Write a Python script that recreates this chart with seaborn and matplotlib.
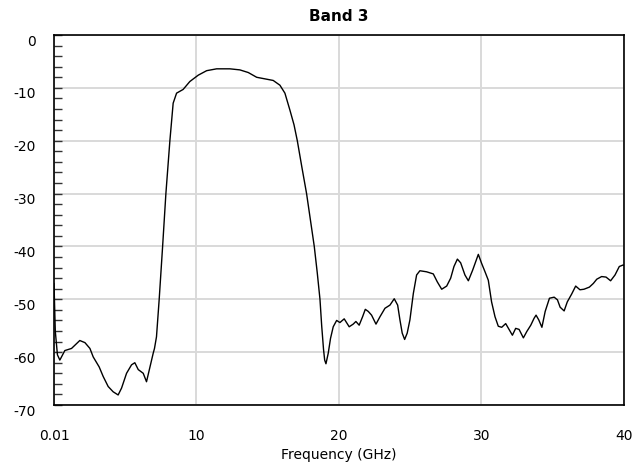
import numpy as np
import pandas as pd
import matplotlib
matplotlib.use("Agg")
import matplotlib.pyplot as plt
import matplotlib.transforms as mtransforms
from matplotlib.ticker import MultipleLocator, FixedLocator
import seaborn as sns

# -------- data --------
freq_ghz = [
    0.01, 0.1, 0.25, 0.42, 0.77, 1.24, 1.82, 2.18, 2.53, 2.76, 3.18, 3.46, 3.81,
    4.16, 4.51, 4.75, 5.10, 5.45, 5.68, 5.92, 6.27, 6.50, 6.74, 6.97, 7.06, 7.20,
    7.39, 7.63, 7.86, 8.14, 8.37, 8.61, 9.07, 9.54, 10.13, 10.72, 11.42,
    12.35, 13.05, 13.64, 14.23, 14.81, 15.39, 15.86, 16.21, 16.56, 16.85, 17.08,
    17.40, 17.73, 18.00, 18.27, 18.48, 18.67, 18.79, 18.92, 19.00, 19.09, 19.25,
    19.41, 19.60, 19.84,
    20.07, 20.37, 20.72, 21.00, 21.19, 21.42, 21.66, 21.85, 22.06, 22.29, 22.60,
    22.88, 23.23, 23.58, 23.88, 24.12, 24.28, 24.44, 24.61, 24.79, 24.98, 25.22,
    25.45, 25.68, 26.15, 26.62, 26.90, 27.21, 27.56, 27.84, 28.07, 28.31, 28.54,
    28.84, 29.08, 29.38, 29.78, 30.01, 30.25, 30.48, 30.71, 30.95, 31.18, 31.42,
    31.70, 31.96, 32.17, 32.40, 32.64, 32.94, 33.18, 33.46, 33.69, 33.83, 34.02,
    34.24, 34.47, 34.77, 35.10, 35.33, 35.52, 35.80, 36.02, 36.33, 36.61, 36.91,
    37.19, 37.57, 37.85, 38.09, 38.43, 38.74, 39.06, 39.37, 39.67, 39.95, 40.0,
]
s21_db = [
    -47.0, -56.0, -60.5, -61.5, -59.7, -59.3, -57.8, -58.2, -59.3, -60.9, -62.8,
    -64.6, -66.5, -67.5, -68.1, -66.8, -64.0, -62.4, -62.0, -63.3, -64.0, -65.6,
    -62.8, -60.2, -59.3, -57.1, -50.0, -40.0, -30.0, -20.0, -12.9, -11.0,
    -10.3, -8.8, -7.6, -6.75, -6.4, -6.4, -6.6, -7.1, -8.0, -8.3, -8.6, -9.5,
    -11.0, -14.2, -17.0, -20.0, -25.0, -30.0, -35.0, -40.0, -45.0, -50.0, -55.0,
    -59.5, -61.5, -62.2, -60.2, -57.4, -55.2, -54.0,
    -54.4, -53.7, -55.2, -54.7, -54.2, -54.9, -53.3,
    -51.9, -52.3, -53.0, -54.7, -53.3, -51.7, -51.1, -49.9, -51.1, -53.9, -56.4,
    -57.6, -56.4, -53.9, -48.9, -45.4, -44.6, -44.8, -45.2, -46.7, -48.1, -47.5,
    -46.0, -43.8, -42.4, -43.1, -45.4, -46.5, -44.5, -41.5, -43.2, -44.8, -46.4,
    -50.5, -53.3, -55.1, -55.3, -54.6, -55.8, -56.8, -55.5, -55.7, -57.3, -56.1,
    -54.9, -53.6, -53.0, -53.9, -55.3, -52.3, -49.8, -49.6, -50.1, -51.5, -52.2,
    -50.5, -49.0, -47.5, -48.2, -48.1, -47.7, -47.0, -46.2, -45.7, -45.8, -46.5,
    -45.4, -43.8, -43.5, -43.6,
]
x_ticks = [0.01, 10, 20, 30, 40]
x_tick_labels = ["0.01", "10", "20", "30", "40"]
y_ticks = [0, -10, -20, -30, -40, -50, -60, -70]

df = pd.DataFrame({"freq": freq_ghz, "db": s21_db})

# -------- plot --------
sns.set_style("white")
plt.rcParams["font.family"] = ["DejaVu Sans"]
plt.rcParams["axes.unicode_minus"] = False
plt.rcParams["text.color"] = "black"
plt.rcParams["axes.labelcolor"] = "black"
plt.rcParams["xtick.color"] = "black"
plt.rcParams["ytick.color"] = "black"

fig = plt.figure(figsize=(6.36, 4.76), dpi=100)
ax = fig.add_axes([54 / 636, 1 - 405 / 476, 570 / 636, 370 / 476])

sns.lineplot(data=df, x="freq", y="db", color="black", linewidth=1.0, ax=ax)

ax.set_xlim(0.01, 40)
ax.set_ylim(-70, 0)
ax.xaxis.set_major_locator(FixedLocator(x_ticks))
ax.set_xticklabels(x_tick_labels)
ax.yaxis.set_major_locator(FixedLocator(y_ticks))
ax.yaxis.set_minor_locator(MultipleLocator(2))

ax.grid(True, which="major", color="#d9d9d9", linewidth=1.4)
ax.set_axisbelow(True)
for sp in ax.spines.values():
    sp.set_visible(True)
    sp.set_color("black")
    sp.set_linewidth(1.2)

ax.tick_params(axis="x", length=0, pad=17, labelsize=10, labelcolor="black")
ax.tick_params(axis="y", which="both", direction="in", length=6, width=1,
               color="#333333", left=True, pad=13, labelsize=10, labelcolor="black")
offset = mtransforms.ScaledTranslation(0, -5 / 100, fig.dpi_scale_trans)
for lab in ax.get_yticklabels():
    lab.set_transform(lab.get_transform() + offset)

ax.set_xlabel("Frequency (GHz)", fontsize=10, labelpad=4, color="black")
ax.set_ylabel("")
ax.set_title("Band 3", fontsize=11, fontweight="bold", pad=10, color="black")

fig.savefig("out.png", dpi=100)
